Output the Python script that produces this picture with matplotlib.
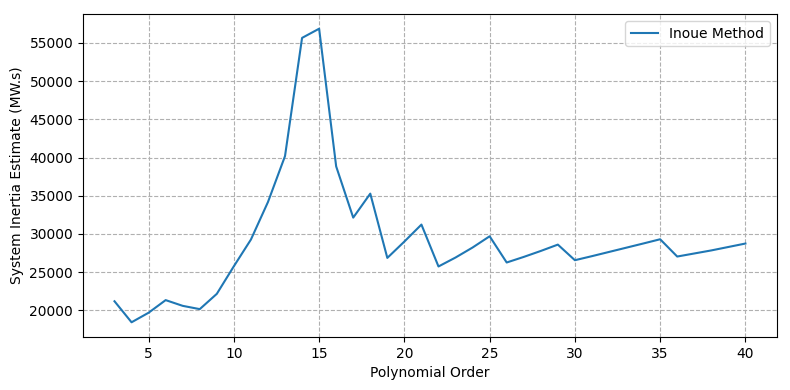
import matplotlib
matplotlib.use("Agg")
import matplotlib.pyplot as plt

# polynomial order vs. inertia estimate
orders = list(range(3, 41))
inertia = [
    21200, 18450, 19700, 21350, 20600, 20170, 22170, 25780, 29270, 34180,
    40190, 55650, 56850, 38840, 32140, 35280, 26870, 29010, 31230, 25750,
    26920, 28230, 29700, 26270, 27000, 27780, 28610, 26570, 27100, 27650,
    28200, 28750, 29310, 27050, 27450, 27850, 28300, 28750,
]

fig, ax = plt.subplots(figsize=(7.9, 3.9), dpi=100)
ax.plot(orders, inertia, color="#1f77b4", label="Inoue Method")
ax.set_xlabel("Polynomial Order")
ax.set_ylabel("System Inertia Estimate (MW.s)")
ax.set_xticks([5, 10, 15, 20, 25, 30, 35, 40])
ax.set_yticks(range(20000, 55001, 5000))
ax.grid(True, linestyle="--", color="#b0b0b0")
ax.legend(loc="upper right")
fig.subplots_adjust(left=0.105, right=0.9835, top=0.964, bottom=0.136)
fig.savefig("out.png")
